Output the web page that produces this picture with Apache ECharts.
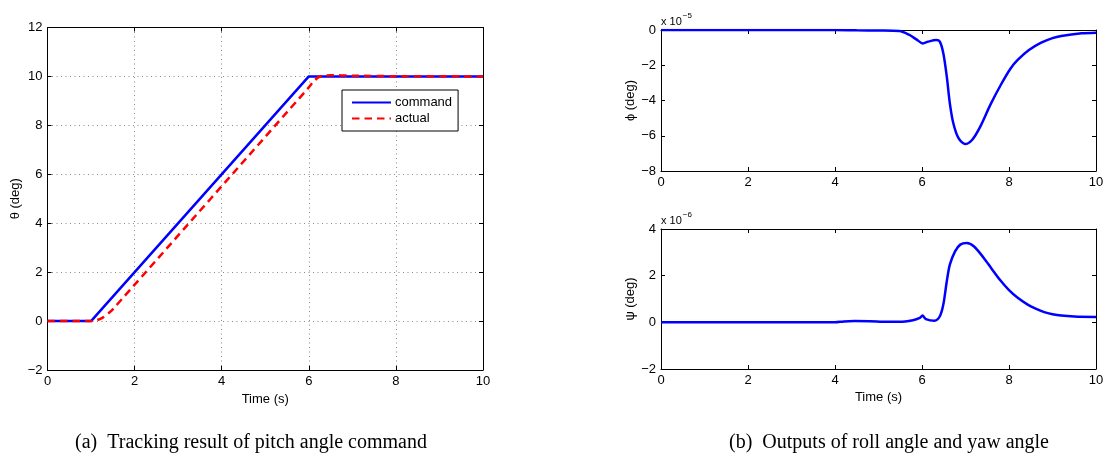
<!DOCTYPE html>
<html>
<head>
<meta charset="utf-8">
<title>Pitch tracking</title>
<script src="https://cdn.jsdelivr.net/npm/echarts@6/dist/echarts.min.js"></script>
<style>
  html, body { margin: 0; padding: 0; background: #fff; }
  #main { width: 1107px; height: 455px; }
</style>
</head>
<body>
<div id="main"></div>
<script>
// (a) pitch angle, deg
const cmdPts = [[0, 0], [1, 0], [6, 10], [10, 10]]
const actPts = [[0, 0], [1, 0], [1.1, 0.02], [1.2, 0.08], [1.3, 0.18], [1.4, 0.32], [1.5, 0.48],
  [6, 9.55], [6.1, 9.78], [6.2, 9.94], [6.3, 10.02], [6.5, 10.05], [7, 10.03], [8, 10.01], [10, 10]]

// (b) roll angle phi, x 1e-5 deg
const phiPts = [[0, 0], [4, 0], [4.5, -0.02], [5, -0.03], [5.48, -0.06], [5.71, -0.28], [5.87, -0.53],
  [6.02, -0.76], [6.14, -0.66], [6.33, -0.57], [6.41, -0.66], [6.49, -1.32], [6.57, -2.65],
  [6.64, -4.16], [6.72, -5.29], [6.84, -6.14], [6.99, -6.47], [7.15, -6.24], [7.34, -5.48],
  [7.57, -4.25], [7.81, -3.12], [8.04, -2.17], [8.2, -1.7], [8.45, -1.15], [8.74, -0.72],
  [9.0, -0.46], [9.2, -0.34], [9.67, -0.19], [10, -0.15]]

// (b) yaw angle psi, x 1e-6 deg
const psiPts = [[0, 0], [4, 0], [4.2, 0.04], [4.45, 0.06], [4.8, 0.05], [5.2, 0.02], [5.48, 0.02],
  [5.79, 0.09], [5.95, 0.19], [6.01, 0.29], [6.09, 0.14], [6.29, 0.07], [6.41, 0.26], [6.49, 0.76],
  [6.57, 1.76], [6.64, 2.47], [6.76, 3.04], [6.88, 3.33], [7.03, 3.4], [7.19, 3.26], [7.42, 2.76],
  [7.6, 2.3], [7.8, 1.8], [8.0, 1.38], [8.2, 1.05], [8.43, 0.76], [8.6, 0.6], [8.81, 0.44],
  [9.0, 0.35], [9.2, 0.29], [9.5, 0.25], [10, 0.23]]

const xTicks = [0, 2, 4, 6, 8, 10]

const font = 'Liberation Sans, Arial, sans-serif'
const serif = 'Liberation Serif, Times New Roman, serif'
const minus = v => String(v).replace('-', '\u2212')

const grids = [
  { left: 47.5, top: 27.5, width: 435.5, height: 342.5 },
  { left: 661, top: 30, width: 435, height: 141 },
  { left: 661, top: 229, width: 435, height: 140 },
]

const gridDots = { show: true, lineStyle: { color: '#8a8a8a', type: [1, 3.5], width: 1 } }

function xAxisOf(gi, name, top) {
  return {
    type: 'value', gridIndex: gi, min: xTicks[0], max: xTicks[xTicks.length - 1], interval: 2,
    position: top ? 'top' : 'bottom',
    name: top ? '' : name, nameLocation: 'middle', nameGap: 22,
    nameTextStyle: { fontFamily: font, fontSize: 13, color: '#000' },
    axisLine: { show: true, onZero: false, lineStyle: { color: '#000', width: 1 } },
    axisTick: { show: true, inside: true, length: 4, lineStyle: { color: '#000' } },
    axisLabel: { show: !top, fontFamily: font, fontSize: 13, color: '#000', margin: 5, formatter: minus },
    splitLine: gi === 0 && !top ? gridDots : { show: false },
  }
}

function yAxisOf(gi, name, min, max, right) {
  return {
    type: 'value', gridIndex: gi, min: min, max: max, interval: 2,
    position: right ? 'right' : 'left',
    name: right ? '' : name, nameLocation: 'middle', nameGap: gi === 0 ? 26 : 22,
    nameTextStyle: { fontFamily: font, fontSize: 13, color: '#000' },
    axisLine: { show: true, onZero: false, lineStyle: { color: '#000', width: 1 } },
    axisTick: { show: true, inside: true, length: 4, lineStyle: { color: '#000' } },
    axisLabel: { show: !right, fontFamily: font, fontSize: 13, color: '#000', margin: 5, formatter: minus },
    splitLine: gi === 0 && !right ? gridDots : { show: false },
  }
}

const blue = '#0000ff', red = '#ff0000'

function expLabel(top, exp) {
  return { type: 'text', left: 661, top: top, style: { text: '{a|x 10}{s|\u2212' + exp + '}', rich: {
    a: { fontFamily: font, fontSize: 11, color: '#000', padding: [6, 0, 0, 0] },
    s: { fontFamily: font, fontSize: 8, color: '#000', padding: [0, 0, 6, 1] } } } }
}

const option = {
  animation: false,
  backgroundColor: '#fff',
  grid: grids,
  xAxis: [
    xAxisOf(0, 'Time (s)'), xAxisOf(1, ''), xAxisOf(2, 'Time (s)'),
    xAxisOf(0, '', true), xAxisOf(1, '', true), xAxisOf(2, '', true),
  ],
  yAxis: [
    yAxisOf(0, '\u03b8 (deg)', -2, 12), yAxisOf(1, '\u03d5 (deg)', -8, 0), yAxisOf(2, '\u03c8 (deg)', -2, 4),
    yAxisOf(0, '', -2, 12, true), yAxisOf(1, '', -8, 0, true), yAxisOf(2, '', -2, 4, true),
  ],
  legend: {
    data: ['command', 'actual'], orient: 'vertical', left: 342, top: 90,
    padding: [6, 6, 6, 9], itemGap: 3, itemWidth: 39, itemHeight: 14,
    itemStyle: { opacity: 0 },
    backgroundColor: '#fff', borderColor: '#000', borderWidth: 1, borderRadius: 0,
    textStyle: { fontFamily: font, fontSize: 13, color: '#000', padding: [0, 0, 0, -1] },
  },
  series: [
    { name: 'command', type: 'line', xAxisIndex: 0, yAxisIndex: 0, data: cmdPts, symbol: 'none',
      lineStyle: { color: blue, width: 2.5 }, itemStyle: { color: blue }, z: 3 },
    { name: 'actual', type: 'line', xAxisIndex: 0, yAxisIndex: 0, data: actPts, symbol: 'none', smooth: 0.2,
      lineStyle: { color: red, width: 2.5, type: [7.5, 5] }, itemStyle: { color: red }, z: 4 },
    { name: 'phi', type: 'line', xAxisIndex: 1, yAxisIndex: 1, data: phiPts, symbol: 'none', smooth: 0.3,
      lineStyle: { color: blue, width: 2.5 }, itemStyle: { color: blue } },
    { name: 'psi', type: 'line', xAxisIndex: 2, yAxisIndex: 2, data: psiPts, symbol: 'none', smooth: 0.3,
      lineStyle: { color: blue, width: 2.5 }, itemStyle: { color: blue } },
  ],
  graphic: [
    expLabel(12, 5),
    expLabel(211, 6),
    { type: 'text', x: 251, y: 443, style: { text: '(a)  Tracking result of pitch angle command',
      fontFamily: serif, fontSize: 20, fill: '#000', align: 'center', verticalAlign: 'middle' } },
    { type: 'text', x: 889, y: 443, style: { text: '(b)  Outputs of roll angle and yaw angle',
      fontFamily: serif, fontSize: 20, fill: '#000', align: 'center', verticalAlign: 'middle' } },
  ],
}

const myChart = echarts.init(document.getElementById('main'), null, { renderer: 'canvas' })
myChart.setOption(option)
</script>
</body>
</html>
